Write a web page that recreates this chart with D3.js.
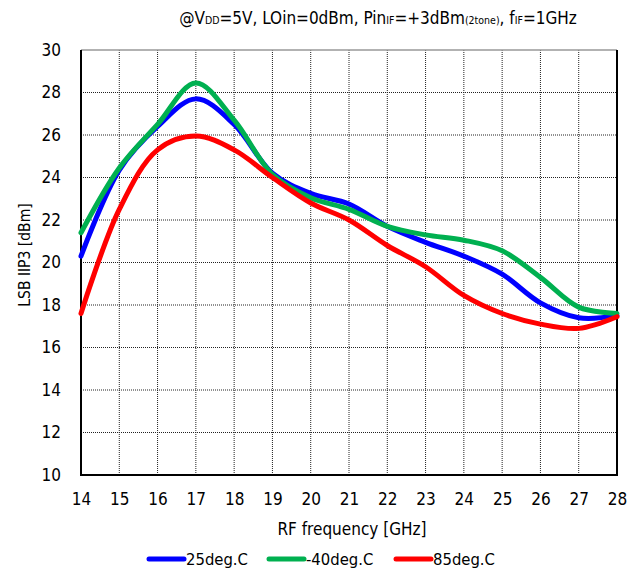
<!DOCTYPE html>
<html><head><meta charset="utf-8">
<script src="https://cdn.jsdelivr.net/npm/d3@7"></script>
<style>body{margin:0;background:#fff}svg{display:block}text{font-family:"DejaVu Sans Condensed","DejaVu Sans",sans-serif;fill:#000}</style>
</head><body><svg id="c" width="628" height="569"></svg>
<script>
const freqs = [14,15,16,17,18,19,20,21,22,23,24,25,26,27,28];
const s25  = [20.3,24.35,26.4,27.7,26.5,24.2,23.25,22.75,21.7,20.95,20.3,19.45,18.1,17.4,17.5];
const sM40 = [21.4,24.45,26.5,28.45,26.7,24.15,23.05,22.5,21.7,21.3,21.05,20.55,19.3,17.9,17.6];
const s85  = [17.6,22.5,25.3,25.95,25.3,24.0,22.8,22.0,20.8,19.8,18.45,17.6,17.1,16.9,17.45];
const xTicks = freqs;
const yTicks = [10,12,14,16,18,20,22,24,26,28,30];
const seriesNames = ["25deg.C","-40deg.C","85deg.C"];
const seriesColors = ["#0000ff","#00b050","#ff0000"];
const seriesData = [s25, sM40, s85];

const svg = d3.select("#c");
const L=81, R=617, T=50, B=475;
const x = d3.scaleLinear().domain([14,28]).range([L,R]);
const y = d3.scaleLinear().domain([10,30]).range([B,T]);

// grid
const g = svg.append("g");
g.selectAll(".vg").data(xTicks.slice(1,-1)).join("line")
  .attr("x1",d=>x(d)).attr("x2",d=>x(d)).attr("y1",T).attr("y2",B)
  .attr("stroke","#222").attr("stroke-width",1).attr("stroke-dasharray","1,1");
g.selectAll(".hg").data(yTicks.slice(1,-1)).join("line")
  .attr("x1",L).attr("x2",R).attr("y1",d=>y(d)).attr("y2",d=>y(d))
  .attr("stroke","#222").attr("stroke-width",1).attr("stroke-dasharray","1,1");

// axes labels
const xa = svg.append("g").attr("transform",`translate(0,${B})`)
  .call(d3.axisBottom(x).tickValues(xTicks).tickSize(0).tickPadding(18));
xa.select(".domain").remove();
xa.selectAll("text").style("font-size","17px").style("font-family","'DejaVu Sans Condensed','DejaVu Sans',sans-serif");
const ya = svg.append("g").attr("transform",`translate(${L},0)`)
  .call(d3.axisLeft(y).tickValues(yTicks).tickSize(0).tickPadding(20));
ya.select(".domain").remove();
ya.selectAll("text").style("font-size","17px").style("font-family","'DejaVu Sans Condensed','DejaVu Sans',sans-serif");

// frame
svg.append("line").attr("x1",L).attr("x2",R).attr("y1",T).attr("y2",T).attr("stroke","#999").attr("stroke-width",1.5);
svg.append("path").attr("d",`M${L},${T}V${B}H${R}V${T}`).attr("fill","none").attr("stroke","#000").attr("stroke-width",2);

// lines
const line = d3.line().x((d,i)=>x(freqs[i])).y(d=>y(d)).curve(d3.curveCatmullRom.alpha(0.5));
seriesData.forEach((s,k)=>{
  svg.append("path").datum(s).attr("d",line).attr("fill","none")
    .attr("stroke",seriesColors[k]).attr("stroke-width",5).attr("stroke-linejoin","round").attr("stroke-linecap","round");
});

// title
const t = svg.append("text").attr("x",378).attr("y",24).attr("text-anchor","middle")
  .style("font-size","17px");
t.append("tspan").text("@V");
t.append("tspan").text("DD").style("font-size","10.5px");
t.append("tspan").text("=5V, LOin=0dBm, Pin");
t.append("tspan").text("IF").style("font-size","10.5px");
t.append("tspan").text("=+3dBm");
t.append("tspan").text("(2tone)").style("font-size","10.5px");
t.append("tspan").text(", f");
t.append("tspan").text("IF").style("font-size","10.5px");
t.append("tspan").text("=1GHz");

svg.append("text").attr("x",352).attr("y",535).attr("text-anchor","middle")
  .style("font-size","17px").text("RF frequency [GHz]");
svg.append("text").attr("transform",`translate(30,255) rotate(-90)`).attr("text-anchor","middle")
  .style("font-size","15.5px").text("LSB IIP3 [dBm]");

// legend
const legX = [148,268,395];
seriesNames.forEach((n,k)=>{
  const lg = svg.append("g").attr("transform",`translate(${legX[k]},559)`);
  lg.append("line").attr("x1",1).attr("x2",36).attr("y1",0).attr("y2",0)
    .attr("stroke",seriesColors[k]).attr("stroke-width",5).attr("stroke-linecap","round");
  lg.append("text").attr("x",38).attr("y",6).style("font-size","16.5px").text(n);
});
</script></body></html>
